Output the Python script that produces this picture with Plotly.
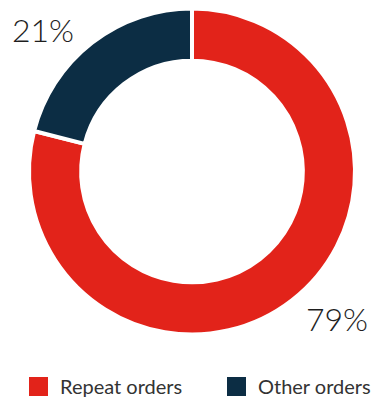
import plotly.graph_objects as go

# Order mix
categories = ["Repeat orders", "Other orders"]
shares = [79, 21]
colors = ["#E2231A", "#0C2D44"]

W, H = 376, 398
FONT = "Lato"

fig = go.Figure()
fig.add_trace(go.Pie(
    labels=categories,
    values=shares,
    hole=0.68,
    sort=False,
    direction="clockwise",
    rotation=0,
    marker=dict(colors=colors, line=dict(color="white", width=4)),
    textinfo="none",
    hoverinfo="label+percent",
    showlegend=False,
    domain=dict(x=[29 / W, 355 / W], y=[1 - 335 / H, 1 - 8 / H]),
))

# Percentage callouts outside the ring
label_pos = {"Repeat orders": (337, 318), "Other orders": (43, 29)}
annotations = []
for cat, v in zip(categories, shares):
    px, py = label_pos[cat]
    annotations.append(dict(
        x=px / W, y=1 - py / H, xref="paper", yref="paper",
        text=f"{v}%", showarrow=False,
        font=dict(family=FONT, size=32, color="#1E1E1E", weight=300),
        xanchor="center", yanchor="middle",
    ))

# Legend: colour swatches with captions
shapes = []
legend_x = [29, 227]
for cat, col, lx in zip(categories, colors, legend_x):
    shapes.append(dict(
        type="rect", xref="paper", yref="paper",
        x0=lx / W, x1=(lx + 19) / W, y0=1 - 396 / H, y1=1 - 377 / H,
        fillcolor=col, line=dict(width=0),
    ))
    annotations.append(dict(
        x=(lx + 29) / W, y=1 - 386 / H, xref="paper", yref="paper",
        text=cat, showarrow=False, xanchor="left", yanchor="middle",
        font=dict(family=FONT, size=20, color="#333333"),
    ))

fig.update_layout(
    width=W, height=H,
    margin=dict(l=0, r=0, t=0, b=0),
    paper_bgcolor="white",
    plot_bgcolor="white",
    annotations=annotations,
    shapes=shapes,
)

fig.write_html("out.html")
